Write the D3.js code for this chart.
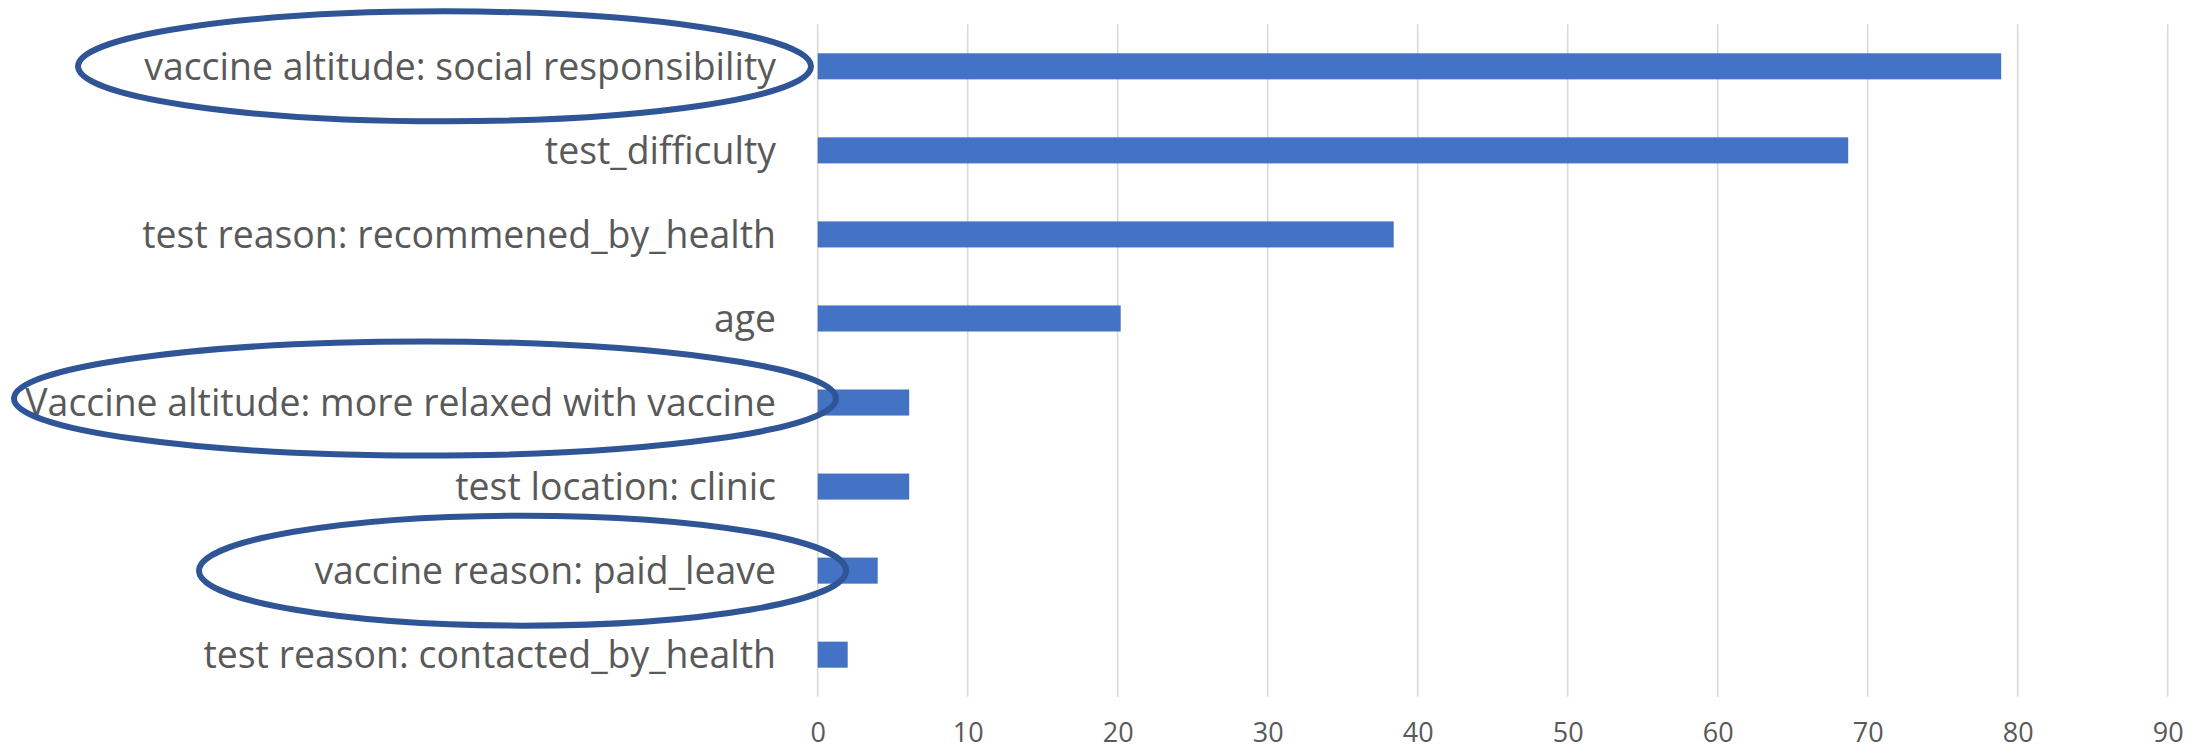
<!DOCTYPE html>
<html>
<head>
<meta charset="utf-8">
<script src="https://cdn.jsdelivr.net/npm/d3@7"></script>
<style>
  html, body { margin: 0; padding: 0; background: #fff; }
  svg { display: block; }
</style>
</head>
<body>
<div id="main"></div>
<script>
// feature names, top to bottom
const features = [
    'vaccine altitude: social responsibility',
    'test_difficulty',
    'test reason: recommened_by_health',
    'age',
    'Vaccine altitude: more relaxed with vaccine',
    'test location: clinic',
    'vaccine reason: paid_leave',
    'test reason: contacted_by_health'
];
const importance = [78.9, 68.7, 38.4, 20.2, 6.1, 6.1, 4.0, 2.0];
const xTicks = [0, 10, 20, 30, 40, 50, 60, 70, 80, 90];
const circled = [
    'vaccine altitude: social responsibility',
    'Vaccine altitude: more relaxed with vaccine',
    'vaccine reason: paid_leave'
];

// hand drawn ellipses, measured from the right edge of the labels
const ellipseFit = {
    'vaccine altitude: social responsibility': { left: 698, right: 35, dy: 0, ry: 55 },
    'Vaccine altitude: more relaxed with vaccine': { left: 762, right: 60, dy: -4, ry: 57 },
    'vaccine reason: paid_leave': { left: 577, right: 70, dy: 0, ry: 55 }
};

const width = 2208;
const height = 753;
const plotLeft = 817.7;
const plotRight = 2167.7;
const plotTop = 24.3;
const plotBottom = 696.7;
const labelRight = 776;
const fontFamily = '"Open Sans", "Noto Sans", sans-serif';
const textColor = '#595959';

const svg = d3.select('#main').append('svg')
    .attr('width', width)
    .attr('height', height);

// size labels so the longest one fills the same width as in the original
const probe = svg.append('text')
    .attr('font-family', fontFamily)
    .attr('font-size', 100)
    .text(features[4]);
const labelSize = 100 * 751 / probe.node().getComputedTextLength();
probe.remove();

const x = d3.scaleLinear()
    .domain([0, 90])
    .range([plotLeft, plotRight]);
const y = d3.scaleBand()
    .domain(features)
    .range([plotTop, plotBottom])
    .paddingInner(0.69)
    .paddingOuter(0.345);

// vertical gridlines
svg.append('g')
    .selectAll('line')
    .data(xTicks)
    .enter()
    .append('line')
    .attr('x1', (d) => x(d))
    .attr('x2', (d) => x(d))
    .attr('y1', plotTop)
    .attr('y2', plotBottom)
    .attr('stroke', '#d9d9d9')
    .attr('stroke-width', 1.6);

// x axis labels, no domain line or ticks
const xAxis = svg.append('g')
    .attr('transform', `translate(0, ${plotBottom})`)
    .call(d3.axisBottom(x).tickValues(xTicks).tickSize(0).tickPadding(26));
xAxis.select('.domain').remove();
xAxis.selectAll('text')
    .attr('font-family', fontFamily)
    .attr('font-size', 27)
    .attr('fill', textColor);

// bars
svg.append('g')
    .selectAll('rect')
    .data(importance)
    .enter()
    .append('rect')
    .attr('x', x(0))
    .attr('y', (d, i) => y(features[i]))
    .attr('width', (d) => x(d) - x(0))
    .attr('height', y.bandwidth())
    .attr('fill', '#4472c4');

// category labels
svg.append('g')
    .selectAll('text')
    .data(features)
    .enter()
    .append('text')
    .attr('x', labelRight)
    .attr('y', (d) => y(d) + y.bandwidth() / 2)
    .attr('dy', '0.36em')
    .attr('text-anchor', 'end')
    .attr('font-family', fontFamily)
    .attr('font-size', labelSize)
    .attr('fill', textColor)
    .text((d) => d);

// highlight ellipses
svg.append('g')
    .selectAll('ellipse')
    .data(circled)
    .enter()
    .append('ellipse')
    .attr('cx', (d) => labelRight + (ellipseFit[d].right - ellipseFit[d].left) / 2)
    .attr('cy', (d) => y(d) + y.bandwidth() / 2 + ellipseFit[d].dy)
    .attr('rx', (d) => (ellipseFit[d].right + ellipseFit[d].left) / 2)
    .attr('ry', (d) => ellipseFit[d].ry)
    .attr('fill', 'none')
    .attr('stroke', '#2f5597')
    .attr('stroke-width', 6);
</script>
</body>
</html>
